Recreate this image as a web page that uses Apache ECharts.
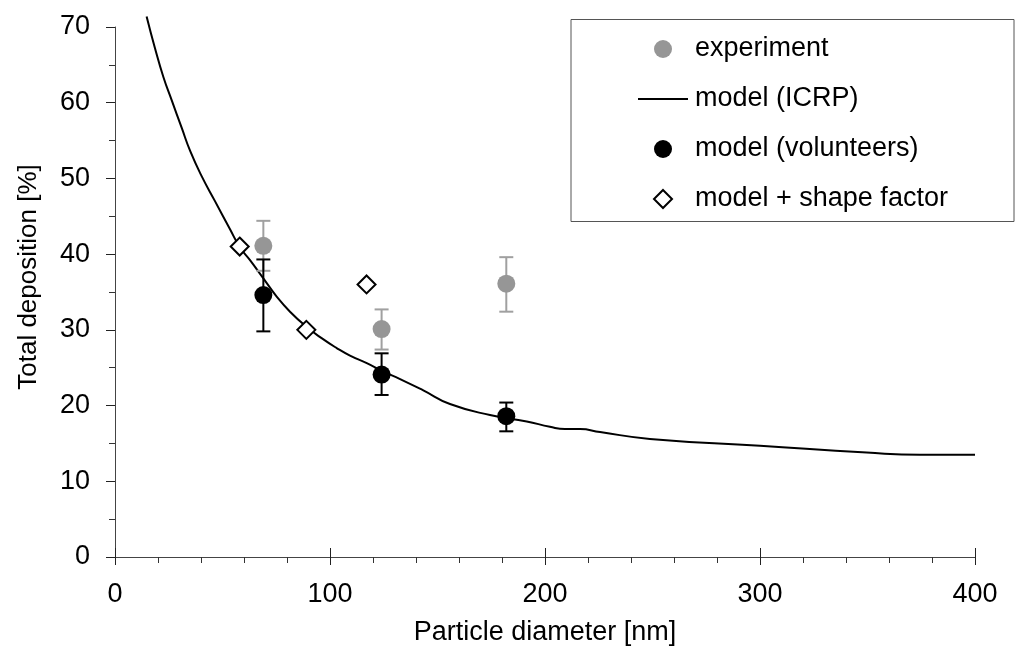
<!DOCTYPE html>
<html>
<head>
<meta charset="utf-8">
<title>Total deposition vs particle diameter</title>
<script src="https://cdn.jsdelivr.net/npm/echarts@6/dist/echarts.min.js"></script>
<style>
  html, body { margin: 0; padding: 0; background: #fff; }
  #chart { width: 1022px; height: 666px; }
</style>
</head>
<body>
<div id="chart"></div>
<script>
// model (ICRP) curve
const icrpX = [14.7, 18.6, 22.5, 26.4, 31.0, 35.0, 40.3, 46.5, 53.5, 58.1, 62.8, 69, 75.2, 81.4, 89.1, 96.1,
  103.1, 109.3, 117.1, 124.8, 132.6, 143.4, 155.8, 174.4, 191.5, 202.3, 209.3, 216.3, 225.6, 248.8, 300, 349.6, 374.4, 400]
const icrpY = [71.4, 67.2, 63.4, 60.3, 56.7, 53.6, 50.3, 47.0, 43.3, 40.9, 39.2, 36.8, 34.4, 32.4, 30.4, 28.9,
  27.6, 26.6, 25.6, 24.5, 23.5, 22.0, 20.2, 18.75, 17.9, 17.2, 16.9, 16.9, 16.5, 15.6, 14.7, 13.8, 13.5, 13.5]

// measured points with error bars
const diameters = [69, 124, 182]
const experiment = [41.1, 30.1, 36.1]
const experimentLow = [37.8, 27.4, 32.4]
const experimentHigh = [44.4, 32.7, 39.6]
const volunteers = [34.6, 24.1, 18.6]
const volunteersLow = [29.8, 21.4, 16.6]
const volunteersHigh = [39.3, 26.9, 20.4]

// model + shape factor
const shapeX = [58, 89, 117]
const shapeY = [41, 30, 36]

const FONT = '"Liberation Sans", Arial, sans-serif'
const GREY = '#969696'
const DIAMOND = 'path://M9,0L18,9L9,18L0,9Z'

const zip = (a, b) => a.map((v, i) => [v, b[i]])

function errorBars(color) {
  return function (params, api) {
    const x = api.value(0)
    const lo = api.coord([x, api.value(1)])
    const hi = api.coord([x, api.value(2)])
    const w = 7
    const style = { stroke: color, lineWidth: 2 }
    return {
      type: 'group',
      children: [
        { type: 'line', shape: { x1: lo[0], y1: lo[1], x2: hi[0], y2: hi[1] }, style },
        { type: 'line', shape: { x1: lo[0] - w, y1: lo[1], x2: lo[0] + w, y2: lo[1] }, style },
        { type: 'line', shape: { x1: hi[0] - w, y1: hi[1], x2: hi[0] + w, y2: hi[1] }, style }
      ]
    }
  }
}

const axisLine = { lineStyle: { color: '#444', width: 1 } }

const options = {
  animation: false,
  backgroundColor: '#fff',
  textStyle: { fontFamily: FONT },
  grid: { left: 115, right: 47, top: 27, bottom: 109, containLabel: false },
  legend: {
    orient: 'vertical',
    left: 638,
    top: 34,
    padding: 0,
    itemWidth: 50,
    itemHeight: 18,
    itemGap: 20,
    selectedMode: false,
    symbolKeepAspect: true,
    textStyle: { fontFamily: FONT, fontSize: 27, color: '#000', lineHeight: 30, padding: [0, 0, 0, 2] },
    data: [
      { name: 'experiment', icon: 'circle' },
      { name: 'model (ICRP)', icon: 'path://M0,0L50,0L50,2L0,2Z', itemStyle: { color: '#000' } },
      { name: 'model (volunteers)', icon: 'circle' },
      { name: 'model + shape factor', icon: DIAMOND }
    ]
  },
  graphic: [
    {
      type: 'rect',
      z: 3,
      shape: { x: 571, y: 19.5, width: 443, height: 202 },
      style: { fill: '#fff', stroke: '#555', lineWidth: 1 }
    },
    {
      type: 'text',
      x: 29,
      y: 277,
      rotation: Math.PI / 2,
      style: {
        text: 'Total deposition [%]',
        font: '26px ' + FONT,
        fill: '#000',
        align: 'center',
        verticalAlign: 'middle'
      }
    }
  ],
  xAxis: [
    {
      type: 'value',
      min: 0,
      max: 400,
      interval: 100,
      name: 'Particle diameter [nm]',
      nameLocation: 'middle',
      nameGap: 62,
      nameTextStyle: { fontFamily: FONT, fontSize: 27, color: '#000' },
      axisLine,
      axisTick: { show: true, length: 8, lineStyle: { color: '#222', width: 1 } },
      minorTick: { show: true, splitNumber: 5, length: 6, lineStyle: { color: '#333', width: 1 } },
      axisLabel: { fontFamily: FONT, fontSize: 27, color: '#000', margin: 24 },
      splitLine: { show: false }
    },
    {
      // upper halves of the crossing major ticks
      type: 'value',
      position: 'bottom',
      min: 0,
      max: 400,
      interval: 100,
      axisLine: { show: false },
      axisTick: { show: true, inside: true, length: 9, lineStyle: { color: '#222', width: 1 } },
      axisLabel: { show: false },
      splitLine: { show: false }
    }
  ],
  yAxis: {
    type: 'value',
    min: 0,
    max: 70,
    interval: 10,
    axisLine: { show: true, ...axisLine },
    axisTick: { show: true, length: 9, lineStyle: { color: '#222', width: 1 } },
    minorTick: { show: true, splitNumber: 2, length: 6, lineStyle: { color: '#333', width: 1 } },
    axisLabel: { fontFamily: FONT, fontSize: 27, color: '#000', margin: 25 },
    splitLine: { show: false }
  },
  series: [
    {
      name: 'model (ICRP)',
      type: 'line',
      data: zip(icrpX, icrpY),
      showSymbol: false,
      symbol: 'none',
      smooth: 0.5,
      clip: false,
      z: 2,
      lineStyle: { color: '#000', width: 2 },
      itemStyle: { color: '#000' }
    },
    {
      name: 'experiment-err',
      type: 'custom',
      renderItem: errorBars('#a0a0a0'),
      data: diameters.map((d, i) => [d, experimentLow[i], experimentHigh[i]]),
      encode: { x: 0, y: [1, 2] },
      z: 3
    },
    {
      name: 'volunteers-err',
      type: 'custom',
      renderItem: errorBars('#000'),
      data: diameters.map((d, i) => [d, volunteersLow[i], volunteersHigh[i]]),
      encode: { x: 0, y: [1, 2] },
      z: 3
    },
    {
      name: 'experiment',
      type: 'scatter',
      data: zip(diameters, experiment),
      symbol: 'circle',
      symbolSize: 18,
      z: 4,
      itemStyle: { color: GREY, opacity: 1 }
    },
    {
      name: 'model (volunteers)',
      type: 'scatter',
      data: zip(diameters, volunteers),
      symbol: 'circle',
      symbolSize: 18,
      z: 4,
      itemStyle: { color: '#000', opacity: 1 }
    },
    {
      name: 'model + shape factor',
      type: 'scatter',
      data: zip(shapeX, shapeY),
      symbol: DIAMOND,
      symbolSize: 18,
      z: 4,
      itemStyle: { color: '#fff', borderColor: '#000', borderWidth: 2, opacity: 1 }
    }
  ]
}

const chart = echarts.init(document.getElementById('chart'), null, { renderer: 'canvas' })
chart.setOption(options)
</script>
</body>
</html>
